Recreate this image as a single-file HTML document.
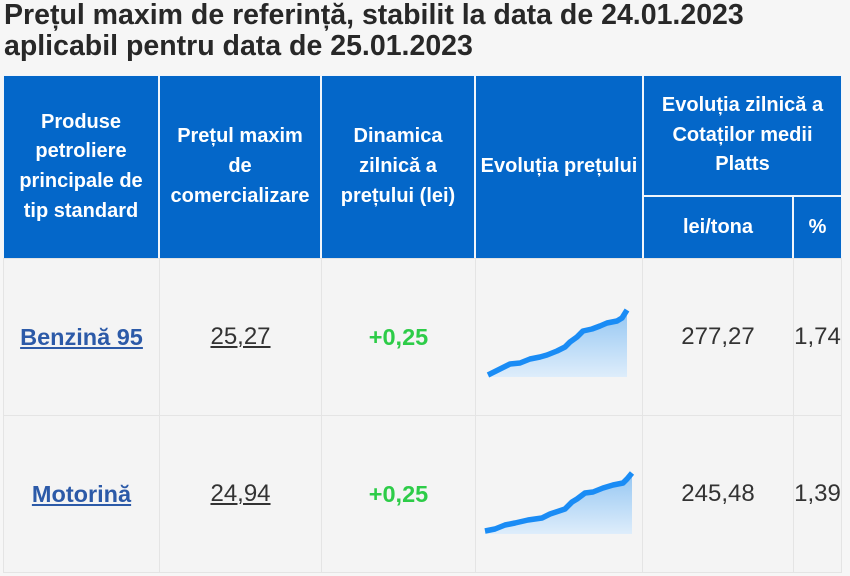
<!DOCTYPE html>
<html><head><meta charset="utf-8">
<style>
html,body{margin:0;padding:0}
body{width:850px;height:576px;background:#f6f6f6;position:relative;overflow:hidden;font-family:"Liberation Sans",Arial,sans-serif}
.t{position:absolute;left:4px;top:0;font-size:28.5px;line-height:30.7px;font-weight:bold;color:#282828;white-space:nowrap}
.band{position:absolute;left:3px;top:75px;width:839px;height:184px;background:#f0f5fb}
.h{position:absolute;background:#0467c9;color:#fff;font-weight:bold;font-size:20px;line-height:29.7px;display:flex;align-items:center;justify-content:center;text-align:center;white-space:nowrap}
.c{position:absolute;background:#f4f4f4;box-sizing:border-box;border:1px solid #e4e4e4;display:flex;align-items:center;justify-content:center;white-space:nowrap}
.lnk{color:#2c5aa8;font-weight:bold;font-size:23.5px;text-decoration:underline;text-decoration-thickness:2px;text-underline-offset:2px}
.num{color:#333;font-size:24px}
.u{text-decoration:underline;text-decoration-thickness:1.5px;text-underline-offset:2px}
.g{color:#2dcc48;font-weight:bold;font-size:23.5px}
svg{position:absolute;left:0;top:0}
</style></head>
<body>
<div class="t">Prețul maxim de referință, stabilit la data de 24.01.2023<br>aplicabil pentru data de 25.01.2023</div>

<div class="band"></div>
<div class="h" style="left:4px;top:76px;width:154px;height:182px">Produse<br>petroliere<br>principale de<br>tip standard</div>
<div class="h" style="left:160px;top:76px;width:160px;height:182px">Prețul maxim<br>de<br>comercializare</div>
<div class="h" style="left:322px;top:76px;width:152px;height:182px">Dinamica<br>zilnică a<br>prețului (lei)</div>
<div class="h" style="left:476px;top:76px;width:166px;height:182px">Evoluția prețului</div>
<div class="h" style="left:644px;top:76px;width:197px;height:119px">Evoluția zilnică a<br>Cotaților medii<br>Platts</div>
<div class="h" style="left:644px;top:197px;width:148px;height:61px">lei/tona</div>
<div class="h" style="left:794px;top:197px;width:47px;height:61px">%</div>

<!-- row 1 -->
<div class="c" style="left:3px;top:258px;width:157px;height:158px"><span class="lnk">Benzină 95</span></div>
<div class="c" style="left:159px;top:258px;width:163px;height:158px"><span class="num u">25,27</span></div>
<div class="c" style="left:321px;top:258px;width:155px;height:158px"><span class="g">+0,25</span></div>
<div class="c" style="left:475px;top:258px;width:168px;height:158px"></div>
<div class="c" style="left:642px;top:258px;width:152px;height:158px"><span class="num">277,27</span></div>
<div class="c" style="left:793px;top:258px;width:49px;height:158px"><span class="num">1,74</span></div>

<!-- row 2 -->
<div class="c" style="left:3px;top:415px;width:157px;height:158px"><span class="lnk">Motorină</span></div>
<div class="c" style="left:159px;top:415px;width:163px;height:158px"><span class="num u">24,94</span></div>
<div class="c" style="left:321px;top:415px;width:155px;height:158px"><span class="g">+0,25</span></div>
<div class="c" style="left:475px;top:415px;width:168px;height:158px"></div>
<div class="c" style="left:642px;top:415px;width:152px;height:158px"><span class="num">245,48</span></div>
<div class="c" style="left:793px;top:415px;width:49px;height:158px"><span class="num">1,39</span></div>

<svg width="850" height="576" viewBox="0 0 850 576">
<defs>
<linearGradient id="gf" x1="0" y1="0" x2="0" y2="1">
<stop offset="0" stop-color="#94c6f2"/>
<stop offset="1" stop-color="#deedfb"/>
</linearGradient>
</defs>
<path d="M488,375 L490,374 500,369 510,364 520,363 530,359 540,357 547,355 557,351 565,347 570,342 577,337 583,331 592,329 600,326 607,323 617,321 622,318 627,310 L627,377 L488,377 Z" fill="url(#gf)"/>
<path d="M488,375 L490,374 500,369 510,364 520,363 530,359 540,357 547,355 557,351 565,347 570,342 577,337 583,331 592,329 600,326 607,323 617,321 622,318 627,310" fill="none" stroke="#1a8cf5" stroke-width="5.5" stroke-linejoin="round"/>
<path d="M485,531 L495,529 505,525 515,523 528,520 542,518 550,514 565,509 572,502 577,499 585,493 593,492 603,488 613,485 623,483 627,479 632,473 L632,534 L485,534 Z" fill="url(#gf)"/>
<path d="M485,531 L495,529 505,525 515,523 528,520 542,518 550,514 565,509 572,502 577,499 585,493 593,492 603,488 613,485 623,483 627,479 632,473" fill="none" stroke="#1a8cf5" stroke-width="5.5" stroke-linejoin="round"/>
</svg>
</body></html>
